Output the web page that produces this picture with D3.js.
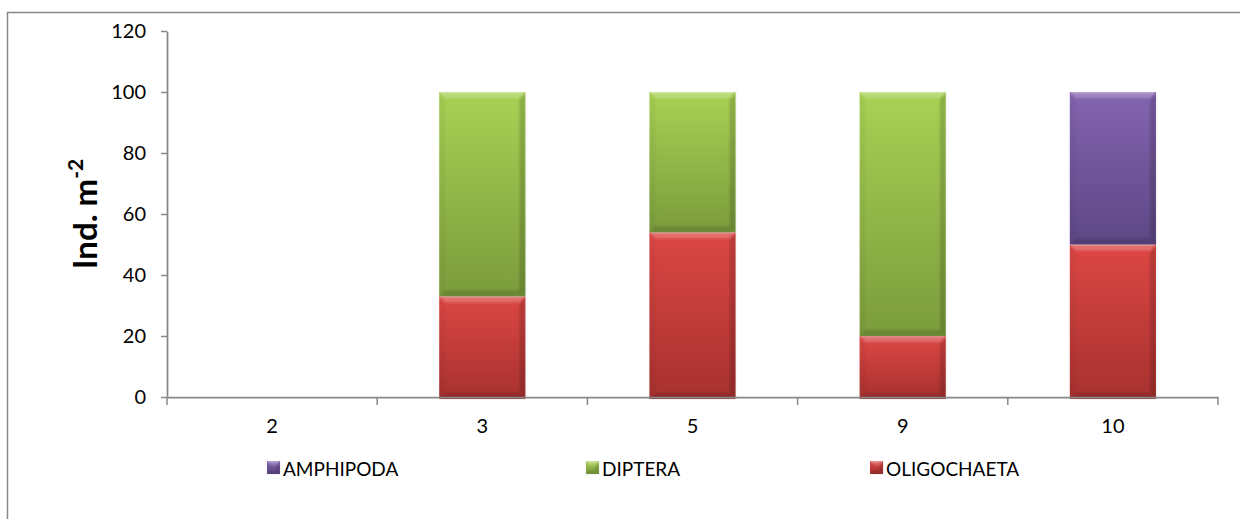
<!DOCTYPE html>
<html>
<head>
<meta charset="utf-8">
<script src="https://cdn.jsdelivr.net/npm/d3@7"></script>
<style>
  html, body { margin: 0; padding: 0; background: #fff; }
  svg { display: block; }
</style>
</head>
<body>
<svg id="chart" width="1240" height="519"></svg>
<script>
// Sampling stations and abundance per taxon (Ind. m-2)
const stations = ["2", "3", "5", "9", "10"];
const oligochaeta = [0, 33, 54, 20, 50];
const diptera = [0, 67, 46, 80, 0];
const amphipoda = [0, 0, 0, 0, 50];
const yTicks = [0, 20, 40, 60, 80, 100, 120];

// Stack order, bottom to top
const seriesList = [
  { key: "oligo", name: "OLIGOCHAETA", values: oligochaeta, top: "#dc4744", bottom: "#a7312f" },
  { key: "dipt", name: "DIPTERA", values: diptera, top: "#a8d154", bottom: "#7b9c3c" },
  { key: "amph", name: "AMPHIPODA", values: amphipoda, top: "#8464b0", bottom: "#5e4785" }
];

const svg = d3.select("#chart");
const FONT = "Lato, 'Open Sans', 'Liberation Sans', sans-serif";
const AXIS = "#888888";

const plot = { left: 167, right: 1218, top: 31, bottom: 397 };

const x = d3.scaleBand().domain(stations).range([plot.left, plot.right]).padding(0);
const y = d3.scaleLinear().domain([0, 120]).range([plot.bottom, plot.top]);
const barW = x.bandwidth() * 0.41;

// Outer chart frame
svg.append("rect")
  .attr("x", 7.5).attr("y", 12.5)
  .attr("width", 1250).attr("height", 520)
  .attr("fill", "none").attr("stroke", AXIS).attr("stroke-width", 1.5);

// Gradients
const defs = svg.append("defs");
seriesList.forEach(s => {
  const g = defs.append("linearGradient").attr("id", "grad-" + s.key)
    .attr("x1", 0).attr("y1", 0).attr("x2", 0).attr("y2", 1);
  g.append("stop").attr("offset", "0%").attr("stop-color", s.top);
  g.append("stop").attr("offset", "100%").attr("stop-color", s.bottom);
});
const soft = defs.append("filter").attr("id", "soft")
  .attr("x", "-5%").attr("y", "-5%").attr("width", "110%").attr("height", "110%");
soft.append("feGaussianBlur").attr("stdDeviation", 0.8);

// Draws a bevelled block
function bevelBlock(g, bx, by, w, h, key, b) {
  g.append("rect").attr("x", bx).attr("y", by).attr("width", w).attr("height", h)
    .attr("fill", `url(#grad-${key})`);
  const bev = g.append("g").attr("filter", "url(#soft)");
  const poly = (pts, fill, op) => bev.append("polygon")
    .attr("points", pts.map(p => p.join(",")).join(" "))
    .attr("fill", fill).attr("fill-opacity", op);
  poly([[bx, by], [bx + w, by], [bx + w - b, by + b], [bx + b, by + b]], "#ffffff", 0.22);
  poly([[bx, by], [bx + b, by + b], [bx + b, by + h - b], [bx, by + h]], "#000000", 0.04);
  poly([[bx + w, by], [bx + w, by + h], [bx + w - b, by + h - b], [bx + w - b, by + b]], "#000000", 0.16);
  poly([[bx, by + h], [bx + b, by + h - b], [bx + w - b, by + h - b], [bx + w, by + h]], "#000000", 0.14);
  g.append("line").attr("x1", bx + 1).attr("x2", bx + w - 1).attr("y1", by + 0.75).attr("y2", by + 0.75)
    .attr("stroke", "#ffffff").attr("stroke-opacity", 0.3).attr("stroke-width", 1.5);
}

// Stacked bars
const bars = svg.append("g");
stations.forEach((st, i) => {
  let base = 0;
  seriesList.forEach(s => {
    const v = s.values[i];
    if (v > 0) {
      const y0 = y(base), y1 = y(base + v);
      const bx = x(st) + (x.bandwidth() - barW) / 2;
      // the lowest block sits slightly over the axis line
      const ext = base === 0 ? 2 : 0;
      bevelBlock(bars, bx, y1, barW, y0 - y1 + ext, s.key, 6);
    }
    base += v;
  });
});

// Y axis
const yAxis = svg.append("g").attr("transform", `translate(${plot.left},0)`)
  .call(d3.axisLeft(y).tickValues(yTicks).tickSize(6).tickPadding(15).tickSizeOuter(0));
yAxis.select(".domain").attr("stroke", AXIS).attr("stroke-width", 1.75);
yAxis.selectAll(".tick line").attr("stroke", AXIS).attr("stroke-width", 1.5);
yAxis.selectAll(".tick text").attr("font-family", FONT).attr("font-size", 20).attr("fill", "#000");

// X axis: labels centred, tick marks at category boundaries
const xAxis = svg.append("g").attr("transform", `translate(0,${plot.bottom})`)
  .call(d3.axisBottom(x).tickSize(0).tickPadding(22).tickSizeOuter(0));
xAxis.select(".domain").attr("stroke", AXIS).attr("stroke-width", 1.75);
xAxis.selectAll(".tick text").attr("font-family", FONT).attr("font-size", 20).attr("fill", "#000");
const bounds = stations.map(s => x(s)).concat([x(stations[stations.length - 1]) + x.bandwidth()]);
xAxis.selectAll(".bound").data(bounds).enter().append("line")
  .attr("x1", d => d).attr("x2", d => d).attr("y1", 0).attr("y2", 8)
  .attr("stroke", AXIS).attr("stroke-width", 1.5);

// Y axis title
const yt = svg.append("text")
  .attr("transform", `translate(97,${(plot.top + plot.bottom) / 2}) rotate(-90)`)
  .attr("text-anchor", "middle")
  .attr("font-family", FONT).attr("font-weight", "bold").attr("font-size", 33).attr("fill", "#000");
yt.append("tspan").text("Ind. m");
yt.append("tspan").attr("font-size", 21).attr("dy", -14).text("-2");

// Legend
const legendItems = [seriesList[2], seriesList[1], seriesList[0]];
const legendX = [267, 586, 870];
const leg = svg.append("g");
legendItems.forEach((s, i) => {
  const g = leg.append("g");
  bevelBlock(g, legendX[i], 461, 13, 13, s.key, 4);
  g.append("text").attr("x", legendX[i] + 16).attr("y", 468)
    .attr("dominant-baseline", "central")
    .attr("font-family", FONT).attr("font-size", 19).attr("fill", "#000")
    .text(s.name);
});
</script>
</body>
</html>
